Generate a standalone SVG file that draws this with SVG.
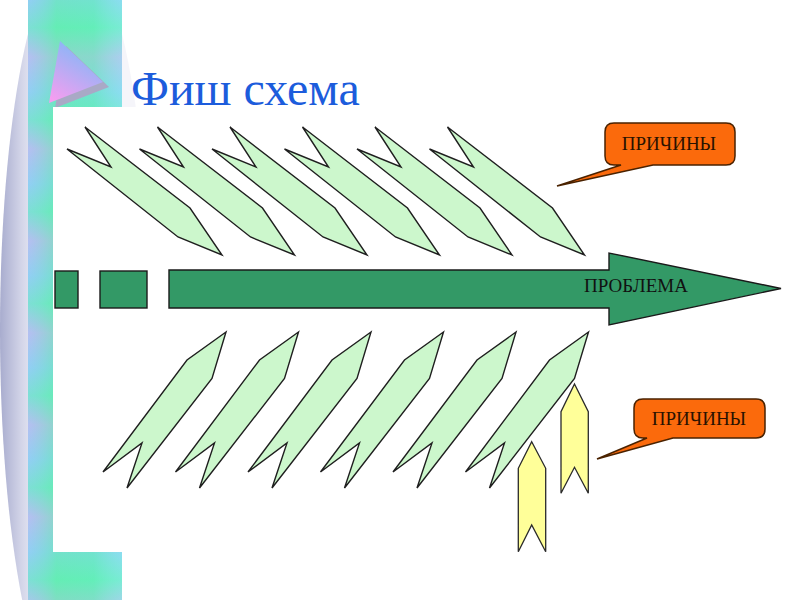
<svg xmlns="http://www.w3.org/2000/svg" xmlns:xlink="http://www.w3.org/1999/xlink" width="800" height="600" viewBox="0 0 800 600">
<style>
.fin{fill:#ccf7cc;stroke:#1f1f1f;stroke-width:1.4;stroke-linejoin:miter}
.yel{fill:#ffff99;stroke:#2a2a2a;stroke-width:1.3}
.grn{fill:#339966;stroke:#1a1a1a;stroke-width:1.4}
.call{fill:#fb6a0c;stroke:#4a2200;stroke-width:1.5}
.ctext{font-family:"Liberation Serif","Times New Roman",serif;font-size:19px;fill:#2a1200;text-anchor:middle}
.ptext{font-family:"Liberation Serif","Times New Roman",serif;font-size:19px;fill:#111;text-anchor:middle}
.title{font-family:"Liberation Serif","Times New Roman",serif;font-size:48px;fill:#1c5cdc}
</style>
<defs>
<linearGradient id="ell" gradientUnits="userSpaceOnUse" x1="0" y1="0" x2="42" y2="0">
<stop offset="0" stop-color="#a8acce"/>
<stop offset="0.5" stop-color="#d2d4e8"/>
<stop offset="1" stop-color="#f5f5fa"/>
</linearGradient>
<linearGradient id="stripV" gradientUnits="userSpaceOnUse" x1="0" y1="0" x2="0" y2="92" spreadMethod="repeat">
<stop offset="0" stop-color="#8cd2f4"/>
<stop offset="0.3" stop-color="#6cecc4"/>
<stop offset="0.62" stop-color="#c2baf0"/>
<stop offset="1" stop-color="#8cd2f4"/>
</linearGradient>
<linearGradient id="stripH" x1="0" y1="0" x2="1" y2="0">
<stop offset="0" stop-color="#9cc8f4" stop-opacity="0.35"/>
<stop offset="0.3" stop-color="#5eeea8" stop-opacity="0.55"/>
<stop offset="0.7" stop-color="#5cf0b0" stop-opacity="0.55"/>
<stop offset="1" stop-color="#8cecec" stop-opacity="0.4"/>
</linearGradient>
<linearGradient id="tri" x1="0.7" y1="0" x2="0.2" y2="1">
<stop offset="0" stop-color="#78baf8"/>
<stop offset="1" stop-color="#f49ef0"/>
</linearGradient>
<path id="topFin" d="M85,127 L190,208 L222,255 L178,237 L67,149 L111,167 Z"/>
<path id="botFin" d="M0,0 L-39,28 L-123,140 L-84,111 L-99,156 L-14,46.5 Z"/>
</defs>

<g id="background">
<rect width="800" height="600" fill="#ffffff"/>
<ellipse cx="75" cy="330" rx="75" ry="380" fill="url(#ell)"/>
<rect x="122" y="300" width="40" height="300" fill="#ffffff"/>
<rect x="28" y="0" width="94" height="600" fill="url(#stripV)"/>
<rect x="28" y="0" width="94" height="600" fill="url(#stripH)"/>
<polygon points="66,46 55,108 109,87" fill="#a9a9c6"/>
<polygon points="60,41 49,103 103,82" fill="url(#tri)"/>
<rect x="53" y="107" width="747" height="445" fill="#ffffff"/>
</g>

<g id="title">
<text class="title" x="131" y="105">Фиш схема</text>
</g>

<g id="top-fins">
<g id="top-fin-1"><use xlink:href="#topFin" href="#topFin" class="fin"/></g>
<g id="top-fin-2"><use xlink:href="#topFin" href="#topFin" class="fin" transform="translate(72.5,0)"/></g>
<g id="top-fin-3"><use xlink:href="#topFin" href="#topFin" class="fin" transform="translate(145,0)"/></g>
<g id="top-fin-4"><use xlink:href="#topFin" href="#topFin" class="fin" transform="translate(217.5,0)"/></g>
<g id="top-fin-5"><use xlink:href="#topFin" href="#topFin" class="fin" transform="translate(290,0)"/></g>
<g id="top-fin-6"><use xlink:href="#topFin" href="#topFin" class="fin" transform="translate(362.5,0)"/></g>
</g>

<g id="bottom-fins">
<g id="bottom-fin-1"><use xlink:href="#botFin" href="#botFin" class="fin" transform="translate(226,332)"/></g>
<g id="bottom-fin-2"><use xlink:href="#botFin" href="#botFin" class="fin" transform="translate(298.5,332)"/></g>
<g id="bottom-fin-3"><use xlink:href="#botFin" href="#botFin" class="fin" transform="translate(371,332)"/></g>
<g id="bottom-fin-4"><use xlink:href="#botFin" href="#botFin" class="fin" transform="translate(443.5,332)"/></g>
<g id="bottom-fin-5"><use xlink:href="#botFin" href="#botFin" class="fin" transform="translate(516,332)"/></g>
<g id="bottom-fin-6"><use xlink:href="#botFin" href="#botFin" class="fin" transform="translate(588.5,332)"/></g>
</g>

<g id="problem-arrow">
<rect class="grn" x="55" y="271" width="23" height="37"/>
<rect class="grn" x="100" y="271" width="47" height="37"/>
<path class="grn" d="M169,270 H609 V253 L781,288.5 L609,325 V308 H169 Z"/>
<text class="ptext" x="636" y="292">ПРОБЛЕМА</text>
</g>

<g id="yellow-arrows">
<path class="yel" d="M531.7,441.7 L545.7,468.3 L545.7,551.7 L531.7,525 L518.3,551.7 L518.3,468.3 Z"/>
<path class="yel" d="M574.5,384 L588.3,411.7 L588.3,493.3 L574.5,467.3 L561,493.3 L561,411.7 Z"/>
</g>

<g id="callout-top">
<path class="call" d="M614,123 H726 Q735,123 735,132 V156 Q735,165 726,165 H653 L557,186 L621,165 H614 Q605,165 605,156 V132 Q605,123 614,123 Z"/>
<text class="ctext" x="669" y="150">ПРИЧИНЫ</text>
</g>

<g id="callout-bottom">
<path class="call" d="M643,399 H756 Q765,399 765,408 V429 Q765,438 756,438 H673 L597,459 L647,438 H643 Q634,438 634,429 V408 Q634,399 643,399 Z"/>
<text class="ctext" x="699" y="425">ПРИЧИНЫ</text>
</g>
</svg>
